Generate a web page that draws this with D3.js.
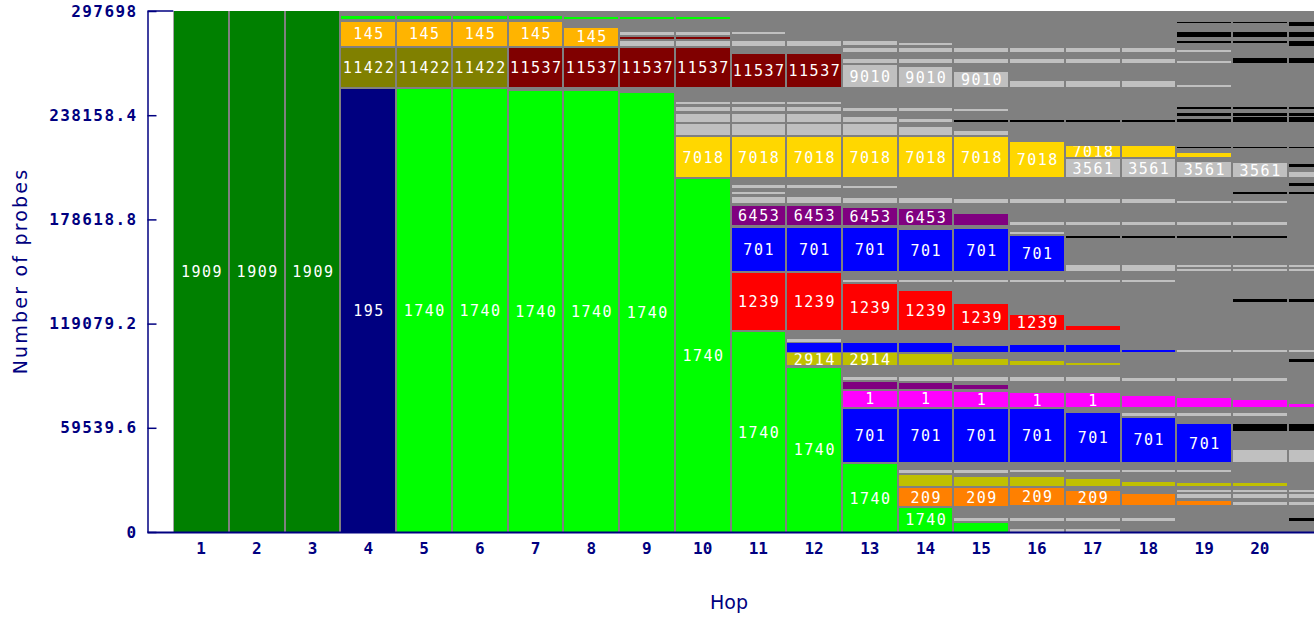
<!DOCTYPE html>
<html>
<head>
<meta charset="utf-8">
<script src="https://cdn.jsdelivr.net/npm/d3@7"></script>
<style>
  body { margin: 0; background: #ffffff; }
  svg { display: block; }
</style>
</head>
<body>
<svg id="chart" width="1314" height="619"></svg>
<script>
// Hops along the traceroute path and the y-axis ticks
const hops = d3.range(1, 22);
const hopTicks = d3.range(1, 21);
const maxProbes = 297698;
const yTickValues = [0, 59539.6, 119079.2, 178618.8, 238158.4, 297698];
const yTickLabels = ["0", "59539.6", "119079.2", "178618.8", "238158.4", "297698"];

// Colour of each AS band ("gap" = unattributed probes, grey)
const palette = {
  G: "#008000", N: "#000080", L: "#00ff00", O: "#808000", Y: "#ffb400",
  M: "#800000", S: "#c0c0c0", D: "#ffd700", P: "#800080", B: "#0000ff",
  R: "#ff0000", K: "#c0c000", F: "#ff00ff", E: "#ff8000", Z: "#000000",
  gap: "#808080"
};

// Per-hop stacks, bottom to top: [probes, colour key, AS label]
const hop01 = [[297698, "G", "1909"]];
const hop02 = [[297698, "G", "1909"]];
const hop03 = [[297698, "G", "1909"]];
const hop04 = [[252960,"N","195"],[1140,"gap"],[22630,"O","11422"],[1140,"gap"],[13710,"Y","145"],[1540,"gap"],[2000,"L"]];
const hop05 = [[252960,"L","1740"],[1140,"gap"],[22630,"O","11422"],[1140,"gap"],[13710,"Y","145"],[1540,"gap"],[2000,"L"]];
const hop06 = [[252960,"L","1740"],[1140,"gap"],[22630,"O","11422"],[1140,"gap"],[13710,"Y","145"],[1540,"gap"],[2000,"L"]];
const hop07 = [[252160,"L","1740"],[1940,"gap"],[22630,"M","11537"],[1140,"gap"],[13710,"Y","145"],[1540,"gap"],[2000,"L"]];
const hop08 = [[252160,"L","1740"],[1940,"gap"],[22630,"M","11537"],[1140,"gap"],[10290,"Y","145"],[4970,"gap"],[1310,"L"]];
const hop09 = [[250670,"L","1740"],[3430,"gap"],[22630,"M","11537"],[1140,"gap"],[2860,"S"],[800,"gap"],[1140,"M"],[1490,"gap"],[1370,"S"],[7600,"gap"],[1310,"L"]];
const hop10 = [[201700,"L","1740"],[1310,"gap"],[22510,"D","7018"],[1310,"gap"],[6110,"S"],[1140,"gap"],[4740,"S"],[1710,"gap"],[2460,"S"],[1370,"gap"],[1140,"S"],[8570,"gap"],[22630,"M","11537"],[1140,"gap"],[2860,"S"],[970,"gap"],[1310,"M"],[1140,"gap"],[1370,"S"],[7600,"gap"],[970,"L"]];
const hop11 = [[114110,"L","1740"],[1310,"gap"],[32400,"R","1239"],[1490,"gap"],[24570,"B","701"],[1540,"gap"],[11030,"P","6453"],[1370,"gap"],[3770,"S"],[1540,"gap"],[1310,"S"],[1940,"gap"],[1890,"S"],[4740,"gap"],[22510,"D","7018"],[1310,"gap"],[6110,"S"],[1140,"gap"],[4740,"S"],[1710,"gap"],[2460,"S"],[1370,"gap"],[1140,"S"],[8570,"gap"],[19030,"M","11537"],[4740,"gap"],[2860,"S"],[3660,"gap"],[1140,"S"]];
const hop12 = [[93880,"L","1740"],[1540,"gap"],[6690,"K","2914"],[910,"gap"],[4800,"B"],[910,"gap"],[1540,"S"],[5140,"gap"],[32400,"R","1239"],[1490,"gap"],[24570,"B","701"],[1540,"gap"],[11030,"P","6453"],[1370,"gap"],[3770,"S"],[4800,"gap"],[1890,"S"],[4740,"gap"],[22510,"D","7018"],[1310,"gap"],[6110,"S"],[1140,"gap"],[4740,"S"],[1710,"gap"],[2460,"S"],[1370,"gap"],[1140,"S"],[8570,"gap"],[19030,"M","11537"],[4740,"gap"],[2860,"S"]];
const hop13 = [[38860,"L","1740"],[1310,"gap"],[30110,"B","701"],[1310,"gap"],[8970,"F","1"],[1140,"gap"],[3830,"P"],[1310,"gap"],[1890,"S"],[6690,"gap"],[6690,"K","2914"],[910,"gap"],[4800,"B"],[7600,"gap"],[26110,"R","1239"],[1140,"gap"],[1310,"S"],[5310,"gap"],[24570,"B","701"],[1540,"gap"],[9890,"P","6453"],[2510,"gap"],[2860,"S"],[5710,"gap"],[1490,"S"],[5140,"gap"],[22510,"D","7018"],[1310,"gap"],[6110,"S"],[1140,"gap"],[3200,"S"],[3260,"gap"],[1540,"S"],[12000,"gap"],[12740,"S","9010"],[1310,"gap"],[1940,"S"],[4000,"gap"],[2630,"S"],[1540,"gap"],[2460,"S"]];
const hop14 = [[13890,"L","1740"],[1140,"gap"],[9940,"E","209"],[1490,"gap"],[6110,"K"],[1310,"gap"],[1540,"S"],[4740,"gap"],[30110,"B","701"],[1310,"gap"],[8970,"F","1"],[1140,"gap"],[3710,"P"],[1030,"gap"],[2290,"S"],[6690,"gap"],[6290,"K"],[1310,"gap"],[4800,"B"],[7600,"gap"],[22280,"R","1239"],[4970,"gap"],[1310,"S"],[5310,"gap"],[23430,"B","701"],[2690,"gap"],[8970,"P","6453"],[3430,"gap"],[2860,"S"],[12340,"gap"],[22510,"D","7018"],[1310,"gap"],[4740,"S"],[2510,"gap"],[1890,"S"],[4570,"gap"],[1540,"S"],[12000,"gap"],[11770,"S","9010"],[2290,"gap"],[1940,"S"],[4000,"gap"],[2630,"S"],[1540,"gap"],[970,"S"]];
const hop15 = [[5310,"L"],[1140,"gap"],[1370,"S"],[7200,"gap"],[9940,"E","209"],[1490,"gap"],[4800,"K"],[2630,"gap"],[1540,"S"],[4740,"gap"],[29940,"B","701"],[1490,"gap"],[8570,"F","1"],[1540,"gap"],[2290,"P"],[2460,"gap"],[2290,"S"],[6690,"gap"],[3430,"K"],[4170,"gap"],[3430,"B"],[8970,"gap"],[14860,"R","1239"],[12400,"gap"],[1310,"S"],[5310,"gap"],[23660,"B","701"],[2460,"gap"],[6110,"P"],[6290,"gap"],[2460,"S"],[12740,"gap"],[22510,"D","7018"],[1310,"gap"],[2460,"S"],[4800,"gap"],[1310,"Z"],[5140,"gap"],[1140,"S"],[12400,"gap"],[8910,"S","9010"],[5140,"gap"],[1940,"S"],[4340,"gap"],[2290,"S"]];
const hop16 = [[1540,"S"],[4740,"gap"],[1540,"S"],[7600,"gap"],[9540,"E","209"],[1490,"gap"],[5140,"K"],[2510,"gap"],[1310,"S"],[4740,"gap"],[30110,"B","701"],[1310,"gap"],[7660,"F","1"],[7200,"gap"],[2290,"S"],[6690,"gap"],[2460,"K"],[4800,"gap"],[4170,"B"],[8570,"gap"],[8860,"R","1239"],[18400,"gap"],[1310,"S"],[5310,"gap"],[19830,"B","701"],[1140,"gap"],[1430,"S"],[4000,"gap"],[1430,"S"],[10690,"gap"],[2460,"S"],[12740,"gap"],[20000,"D","7018"],[11090,"gap"],[1310,"Z"],[19030,"gap"],[3260,"S"],[10460,"gap"],[1940,"S"],[4340,"gap"],[2290,"S"]];
const hop17 = [[1540,"S"],[4740,"gap"],[1540,"S"],[7600,"gap"],[8170,"E","209"],[2860,"gap"],[3660,"K"],[4000,"gap"],[1310,"S"],[4740,"gap"],[27660,"B","701"],[3770,"gap"],[7660,"F","1"],[7200,"gap"],[2290,"S"],[6690,"gap"],[1310,"K"],[5940,"gap"],[4170,"B"],[8570,"gap"],[2290,"R"],[24970,"gap"],[1310,"S"],[5140,"gap"],[3430,"S"],[15600,"gap"],[1140,"Z"],[6110,"gap"],[1540,"S"],[10860,"gap"],[2460,"S"],[12740,"gap"],[9940,"S","3561"],[1490,"gap"],[6110,"D","7018"],[13540,"gap"],[1310,"Z"],[19030,"gap"],[3260,"S"],[10460,"gap"],[1940,"S"],[4340,"gap"],[2290,"S"]];
const hop18 = [[6290,"gap"],[1540,"S"],[7600,"gap"],[6290,"E"],[4740,"gap"],[2290,"K"],[5370,"gap"],[1310,"S"],[4740,"gap"],[25140,"B","701"],[1140,"gap"],[1370,"S"],[3770,"gap"],[6110,"F"],[8740,"gap"],[1370,"S"],[14860,"gap"],[1310,"B"],[38680,"gap"],[1310,"S"],[5140,"gap"],[3430,"S"],[15600,"gap"],[1140,"Z"],[6110,"gap"],[1540,"S"],[10860,"gap"],[2460,"S"],[12740,"gap"],[9940,"S","3561"],[1490,"gap"],[6110,"D"],[13540,"gap"],[1310,"Z"],[19030,"gap"],[3260,"S"],[10460,"gap"],[1940,"S"],[4340,"gap"],[2290,"S"]];
const hop19 = [[15430,"gap"],[2290,"E"],[1540,"gap"],[2460,"S"],[970,"gap"],[1310,"S"],[2460,"gap"],[1370,"K"],[6290,"gap"],[1310,"S"],[4740,"gap"],[21370,"B","701"],[4910,"gap"],[1370,"S"],[3770,"gap"],[4800,"F"],[10060,"gap"],[1370,"S"],[14860,"gap"],[1310,"S"],[45140,"gap"],[1140,"S"],[1310,"gap"],[970,"S"],[15600,"gap"],[1140,"Z"],[6110,"gap"],[1540,"S"],[10860,"gap"],[1490,"S"],[13710,"gap"],[8570,"S","3561"],[2860,"gap"],[2290,"D"],[2510,"gap"],[910,"Z"],[13940,"gap"],[1710,"Z"],[2060,"gap"],[1370,"Z"],[2460,"gap"],[1310,"Z"],[11090,"gap"],[1310,"S"],[12400,"gap"],[1490,"S"],[4800,"gap"],[1310,"S"],[3830,"gap"],[1490,"Z"],[2290,"gap"],[2510,"Z"],[5140,"gap"],[910,"Z"]];
const hop20 = [[15430,"gap"],[1540,"S"],[2290,"gap"],[2460,"S"],[970,"gap"],[1310,"S"],[2460,"gap"],[1370,"K"],[12340,"gap"],[6690,"S"],[11030,"gap"],[3660,"Z"],[4910,"gap"],[1370,"S"],[3770,"gap"],[3830,"F"],[11030,"gap"],[1370,"S"],[14860,"gap"],[1310,"S"],[27600,"gap"],[1370,"Z"],[16170,"gap"],[1140,"S"],[1310,"gap"],[970,"S"],[15600,"gap"],[1140,"Z"],[6110,"gap"],[1540,"S"],[10860,"gap"],[1490,"S"],[3660,"gap"],[1140,"Z"],[8910,"gap"],[7660,"S","3561"],[8570,"gap"],[910,"Z"],[13940,"gap"],[2860,"Z"],[910,"gap"],[1370,"Z"],[2460,"gap"],[1310,"Z"],[24800,"gap"],[2860,"Z"],[8570,"gap"],[1490,"Z"],[2290,"gap"],[2510,"Z"],[5140,"gap"],[910,"Z"]];
const hop21 = [[6290,"gap"],[1540,"Z"],[7600,"gap"],[1540,"S"],[2290,"gap"],[2460,"S"],[970,"gap"],[1310,"S"],[16170,"gap"],[6690,"S"],[11030,"gap"],[3660,"Z"],[10060,"gap"],[1370,"F"],[24340,"gap"],[1370,"Z"],[4000,"gap"],[1310,"S"],[27600,"gap"],[1370,"Z"],[16170,"gap"],[1140,"S"],[1310,"gap"],[970,"S"],[40400,"gap"],[1140,"Z"],[3770,"gap"],[1370,"Z"],[3770,"gap"],[2510,"S"],[3200,"gap"],[1540,"Z"],[8970,"gap"],[910,"Z"],[13940,"gap"],[2860,"Z"],[910,"gap"],[1370,"Z"],[2460,"gap"],[1310,"Z"],[24800,"gap"],[2860,"Z"],[7200,"gap"],[2860,"Z"],[2290,"gap"],[2510,"Z"],[3770,"gap"],[2290,"Z"]];

const stacks = [hop01, hop02, hop03, hop04, hop05, hop06, hop07, hop08, hop09, hop10,
                hop11, hop12, hop13, hop14, hop15, hop16, hop17, hop18, hop19, hop20, hop21];

// Layout
const W = 1314, H = 619;
const plotTop = 11, plotBottom = 532, axisX = 147.5;
const barsLeft = 173.3, hopStep = 55.72;
const axisColor = "#000080";

const svg = d3.select("#chart");

const x = d3.scaleBand()
  .domain(hops)
  .range([barsLeft, barsLeft + hops.length * hopStep])
  .padding(0);

const y = d3.scaleLinear()
  .domain([0, maxProbes])
  .range([plotBottom, plotTop]);

// Grey field behind the stacks
svg.append("rect")
  .attr("x", x(1)).attr("y", y(maxProbes))
  .attr("width", W - x(1)).attr("height", y(0) - y(maxProbes))
  .attr("fill", palette.gap);

// Flatten the stacks into positioned segments
const segments = [];
stacks.forEach((stack, i) => {
  let acc = 0;
  stack.forEach(([value, key, label]) => {
    segments.push({ hop: hops[i], y0: acc, y1: acc + value, key, label });
    acc += value;
  });
});

const drawn = segments.filter(d => d.key !== "gap");
const defs = svg.append("defs");

const barG = svg.append("g").attr("shape-rendering", "crispEdges");
barG.selectAll("rect")
  .data(drawn)
  .join("rect")
  .attr("x", d => x(d.hop) + 1)
  .attr("width", x.bandwidth() - 2)
  .attr("y", d => y(d.y1))
  .attr("height", d => Math.max(1, y(d.y0) - y(d.y1)))
  .attr("fill", d => palette[d.key]);

// AS labels, clipped to their own segment
const labelled = drawn.filter(d => d.label);
labelled.forEach((d, i) => {
  defs.append("clipPath").attr("id", "seg" + i)
    .append("rect")
    .attr("x", x(d.hop) + 1).attr("width", x.bandwidth() - 2)
    .attr("y", y(d.y1)).attr("height", y(d.y0) - y(d.y1));
});
svg.append("g")
  .selectAll("text")
  .data(labelled)
  .join("text")
  .attr("clip-path", (d, i) => `url(#seg${i})`)
  .attr("x", d => x(d.hop) + x.bandwidth() / 2 + 0.8)
  .attr("y", d => (y(d.y0) + y(d.y1)) / 2)
  .attr("dy", "0.37em")
  .attr("text-anchor", "middle")
  .attr("fill", "#ffffff")
  .style("font-family", "'DejaVu Sans Mono', monospace")
  .style("font-size", "15px")
  .style("letter-spacing", "1.5px")
  .text(d => d.label);

// Y axis (ticks point into the plot)
const yAxis = d3.axisLeft(y)
  .tickValues(yTickValues)
  .tickFormat((d, i) => yTickLabels[i])
  .tickSizeInner(-9)
  .tickSizeOuter(0)
  .tickPadding(10);

const yg = svg.append("g")
  .attr("transform", `translate(${axisX},0)`)
  .call(yAxis);
yg.select(".domain").attr("stroke", axisColor).attr("stroke-width", 1.5);
yg.selectAll(".tick line").attr("stroke", axisColor).attr("stroke-width", 1.5);
yg.selectAll(".tick text")
  .attr("fill", axisColor)
  .style("font-family", "'DejaVu Sans Mono', monospace")
  .style("font-weight", "bold")
  .style("font-size", "16px")
  .style("letter-spacing", "1.4px");

// Top cap of the axis
svg.append("line")
  .attr("x1", axisX).attr("x2", x(1))
  .attr("y1", plotTop).attr("y2", plotTop)
  .attr("stroke", axisColor).attr("stroke-width", 1.5);

// X axis
svg.append("line")
  .attr("x1", axisX).attr("x2", W)
  .attr("y1", plotBottom + 0.5).attr("y2", plotBottom + 0.5)
  .attr("stroke", axisColor).attr("stroke-width", 2);

const xAxis = d3.axisBottom(x).tickValues(hopTicks).tickSize(0).tickPadding(11);
const xg = svg.append("g")
  .attr("transform", `translate(0,${plotBottom})`)
  .call(xAxis);
xg.select(".domain").remove();
xg.selectAll(".tick text")
  .attr("fill", axisColor)
  .style("font-family", "'DejaVu Sans Mono', monospace")
  .style("font-weight", "bold")
  .style("font-size", "16px");

// Axis titles
svg.append("text")
  .attr("x", 729).attr("y", 609)
  .attr("text-anchor", "middle")
  .attr("fill", axisColor)
  .style("font-family", "'DejaVu Sans', sans-serif")
  .style("font-size", "19px")
  .text("Hop");

svg.append("text")
  .attr("transform", "translate(27,271) rotate(-90)")
  .attr("text-anchor", "middle")
  .attr("fill", axisColor)
  .style("font-family", "'DejaVu Sans', sans-serif")
  .style("font-size", "19px")
  .style("letter-spacing", "2.2px")
  .text("Number of probes");
</script>
</body>
</html>
